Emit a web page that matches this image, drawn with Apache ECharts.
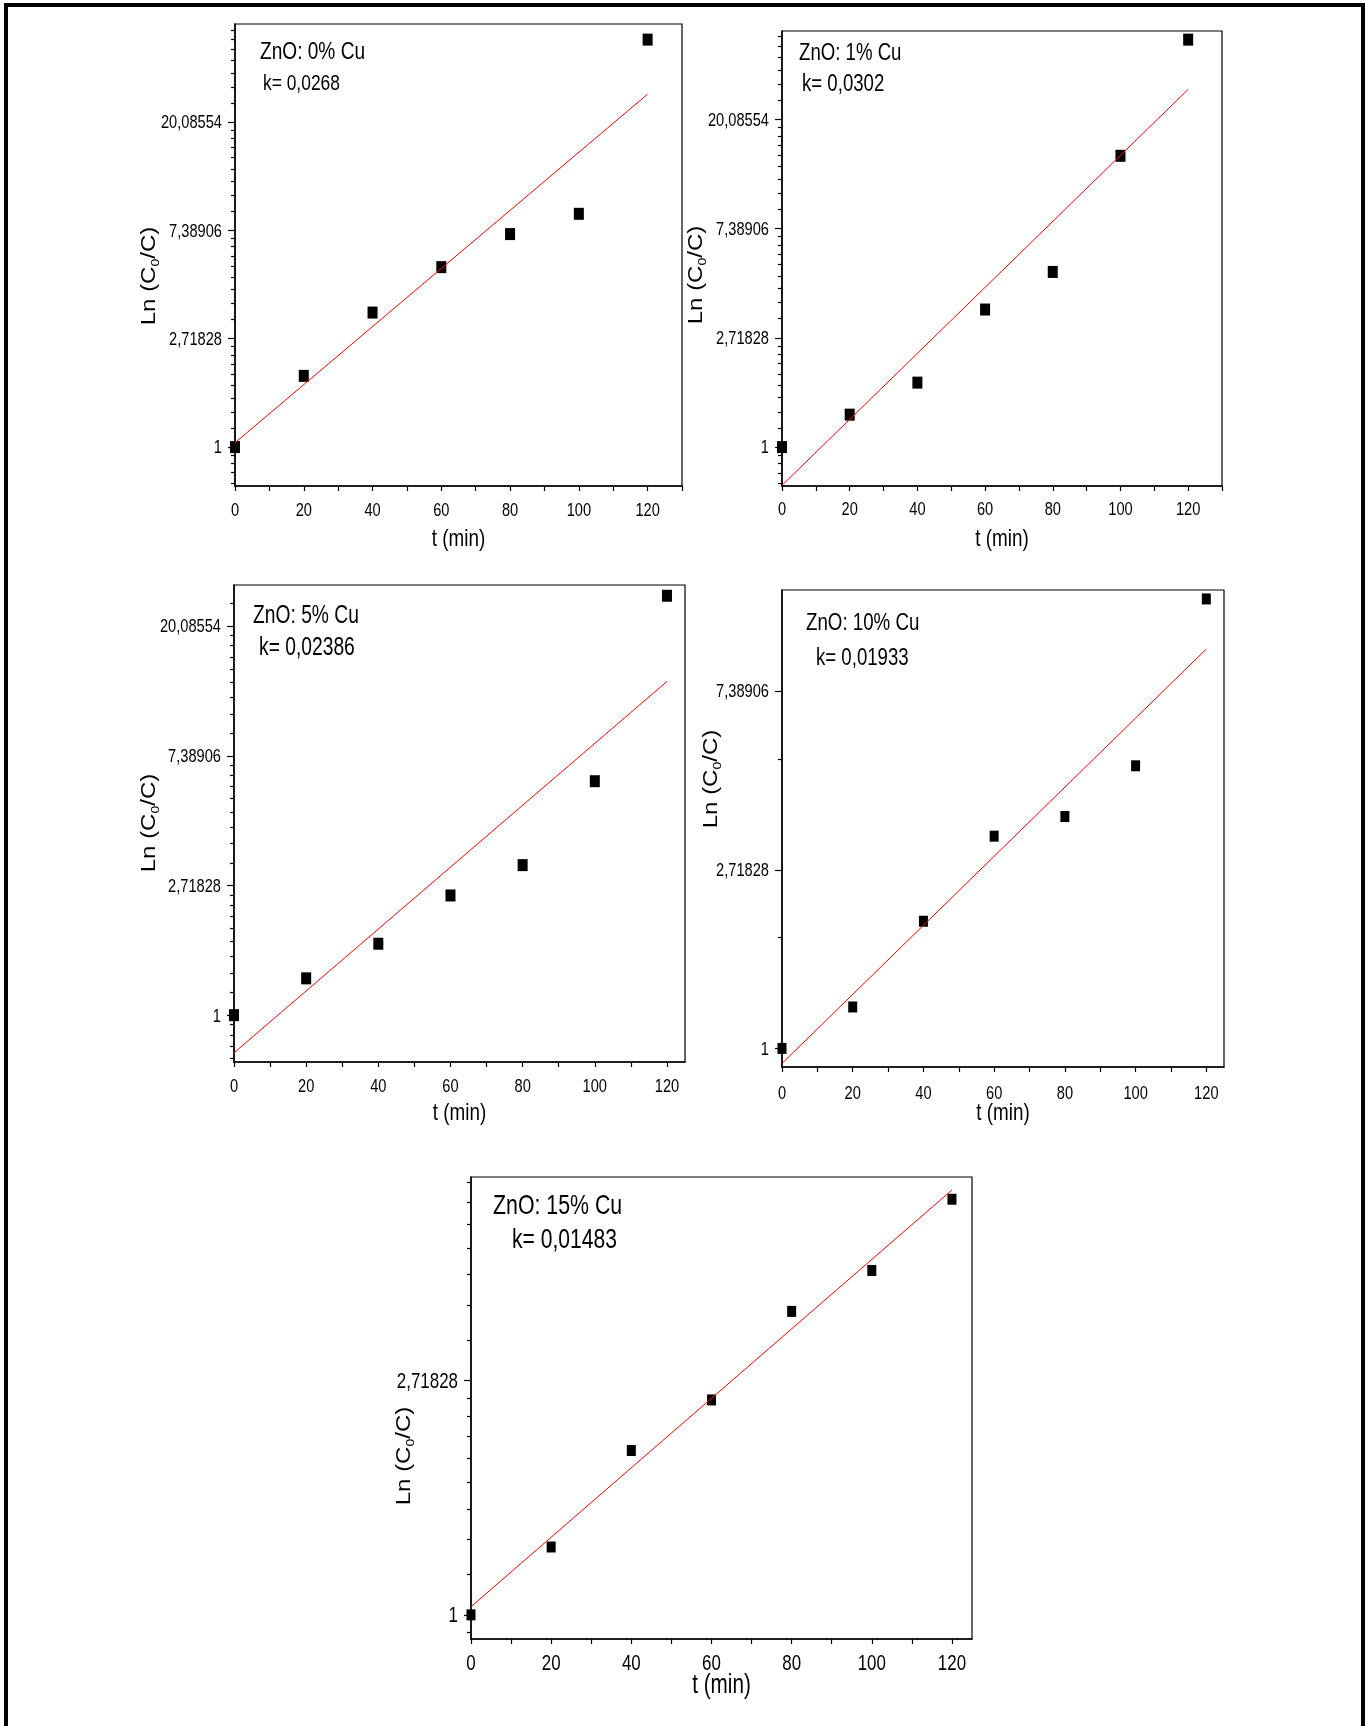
<!DOCTYPE html>
<html>
<head>
<meta charset="utf-8">
<script src="https://cdn.jsdelivr.net/npm/echarts@6/dist/echarts.min.js"></script>
<style>
  html, body { margin: 0; padding: 0; background: #ffffff; }
  #chart { width: 1365px; height: 1726px; }
</style>
</head>
<body>
<div id="chart"></div>
<script>
// Irradiation time (min)
const timeMin = [0, 20, 40, 60, 80, 100, 120];
const xTickLabels = [0, 20, 40, 60, 80, 100, 120];
// Labels of the major y ticks, placed at ln = 0, 1, 2, 3
const yTickLabels = ['1', '2,71828', '7,38906', '20,08554'];

const sampleNames = ['ZnO: 0% Cu', 'ZnO: 1% Cu', 'ZnO: 5% Cu', 'ZnO: 10% Cu', 'ZnO: 15% Cu'];
const rateLabels = ['k= 0,0268', 'k= 0,0302', 'k= 0,02386', 'k= 0,01933', 'k= 0,01483'];

// ln(C0/C) measured for each sample
const lnCu0 = [0, 0.657, 1.241, 1.660, 1.965, 2.152, 3.759];
const lnCu1 = [0, 0.297, 0.590, 1.259, 1.603, 2.666, 3.729];
const lnCu5 = [0, 0.284, 0.551, 0.923, 1.157, 1.804, 3.234];
const lnCu10 = [0, 0.232, 0.712, 1.188, 1.298, 1.582, 2.516];
const lnCu15 = [0, 0.290, 0.702, 0.918, 1.296, 1.471, 1.775];

// Pseudo-first-order fit: ln(C0/C) = b + k t
const rateK = [0.0268, 0.0302, 0.02386, 0.01933, 0.01483];
const fitIntercept = [0.04, -0.35, -0.29, -0.084, 0.035];
const fitRange = [0, 120];

const seriesValues = [lnCu0, lnCu1, lnCu5, lnCu10, lnCu15];

// Panel layout (pixels), axis ranges and text sizes
const panels = [
  { grid: { left: 235, top: 24, width: 447, height: 462 }, xMax: 130, yMin: -0.359, yMax: 3.903, minorDiv: 9,
    tick: 19, xLabelGap: 24, nameGap: 52, nameSize: 24.5, sym: [10, 12],
    yTitle: [150, 276], title: [260, 50.6, 24.8], rate: [263, 82.6, 22.6] },
  { grid: { left: 782, top: 31, width: 440, height: 455 }, xMax: 130, yMin: -0.356, yMax: 3.808, minorDiv: 9,
    tick: 19, xLabelGap: 23, nameGap: 52, nameSize: 24.5, sym: [10, 12],
    yTitle: [697, 275], title: [799, 51.7, 24.2], rate: [802, 82.6, 24.2] },
  { grid: { left: 234, top: 585, width: 451, height: 477 }, xMax: 125, yMin: -0.361, yMax: 3.317, minorDiv: 9,
    tick: 19, xLabelGap: 24, nameGap: 50, nameSize: 24.5, sym: [10, 12],
    yTitle: [150, 823], title: [253, 614.2, 25], rate: [259, 646.2, 25] },
  { grid: { left: 782, top: 590, width: 442, height: 477 }, xMax: 125, yMin: -0.104, yMax: 2.566, minorDiv: 2,
    tick: 19, xLabelGap: 25.5, nameGap: 45, nameSize: 24.5, sym: [9, 11],
    yTitle: [712, 779], title: [806, 622, 24.3], rate: [816, 657.2, 24.2] },
  { grid: { left: 471, top: 1177, width: 501, height: 462 }, xMax: 125, yMin: -0.103, yMax: 1.870, minorDiv: 9,
    tick: 22, xLabelGap: 24, nameGap: 45, nameSize: 26.9, sym: [9, 11],
    yTitle: [405, 1456], title: [493, 1204.3, 27.7], rate: [512, 1238.4, 27.4] }
];

const FONT = "'Liberation Sans', Arial, sans-serif";
const SQUEEZE = 0.77;   // condensed look of the lettering

// Minor ticks: linear subdivisions between successive powers of e
function minorTicks(p) {
  const out = [];
  for (let n = -1; n < 4; n++) {
    const lo = Math.exp(n), hi = Math.exp(n + 1);
    for (let i = 1; i < p.minorDiv; i++) {
      const v = Math.log(lo + i * (hi - lo) / p.minorDiv);
      if (v > p.yMin + 1e-6 && v < p.yMax - 1e-6) out.push(v);
    }
  }
  return out;
}
function majorTicks(p) {
  return [0, 1, 2, 3].filter(v => v >= p.yMin && v <= p.yMax);
}
function xTicks(p) {
  const out = [];
  for (let v = 0; v <= p.xMax; v += 10) out.push(v);
  return out;
}

const grids = [], xAxes = [], yAxes = [], series = [];

panels.forEach((p, i) => {
  grids.push(Object.assign({ show: true, borderColor: '#000', borderWidth: 1.2, backgroundColor: 'transparent' }, p.grid));

  xAxes.push({
    type: 'value', gridIndex: i, min: 0, max: p.xMax,
    axisLine: { show: true, onZero: false, lineStyle: { color: '#000', width: 1.5 } },
    axisTick: { show: true, length: 5, customValues: xTicks(p), lineStyle: { color: '#000', width: 1.2 } },
    axisLabel: { show: false },
    splitLine: { show: false }
  });

  // major ticks
  yAxes.push({
    type: 'value', gridIndex: i, min: p.yMin, max: p.yMax, position: 'left',
    axisLine: { show: true, onZero: false, lineStyle: { color: '#000', width: 1.5 } },
    axisTick: { show: true, length: 7, customValues: majorTicks(p), lineStyle: { color: '#000', width: 1.2 } },
    axisLabel: { show: false },
    splitLine: { show: false }
  });
  // minor ticks
  yAxes.push({
    type: 'value', gridIndex: i, min: p.yMin, max: p.yMax, position: 'left',
    axisLine: { show: false },
    axisTick: { show: true, length: 4, customValues: minorTicks(p), lineStyle: { color: '#000', width: 1.2 } },
    axisLabel: { show: false },
    splitLine: { show: false }
  });

  series.push({
    type: 'scatter', xAxisIndex: i, yAxisIndex: 2 * i,
    symbol: 'rect', symbolSize: p.sym,
    itemStyle: { color: '#000', opacity: 1 },
    data: timeMin.map((t, j) => [t, seriesValues[i][j]]),
    z: 3
  });
  series.push({
    type: 'line', xAxisIndex: i, yAxisIndex: 2 * i,
    showSymbol: false, symbol: 'none', clip: true,
    lineStyle: { color: '#ff0000', width: 1 },
    data: fitRange.map(t => [t, fitIntercept[i] + rateK[i] * t]),
    z: 4
  });
});

const chart = echarts.init(document.getElementById('chart'), null, { renderer: 'canvas' });
chart.setOption({
  animation: false,
  backgroundColor: '#ffffff',
  grid: grids,
  xAxis: xAxes,
  yAxis: yAxes,
  series: series
});

// Condensed lettering: tick labels, axis titles and annotations,
// placed through each grid's own coordinate mapping.
function label(text, x, y, size, align, extra) {
  return Object.assign({
    type: 'text', x: x, y: y + 0.06 * size, scaleX: SQUEEZE, z: 10,
    style: { text: text, fontFamily: FONT, fontSize: size, fill: '#000', align: align, verticalAlign: 'middle' }
  }, extra || {});
}

const graphics = [];
panels.forEach((p, i) => {
  const finder = { xAxisIndex: i, yAxisIndex: 2 * i };
  const axisY = p.grid.top + p.grid.height;
  const axisX = p.grid.left;

  majorTicks(p).forEach(v => {
    const pt = chart.convertToPixel(finder, [0, v]);
    graphics.push(label(yTickLabels[Math.round(v)], axisX - 13, pt[1], p.tick, 'right'));
  });
  xTickLabels.forEach(v => {
    const pt = chart.convertToPixel(finder, [v, p.yMin]);
    graphics.push(label(String(v), pt[0], axisY + p.xLabelGap, p.tick, 'center'));
  });
  graphics.push(label('t (min)', p.grid.left + p.grid.width / 2, axisY + p.nameGap, p.nameSize, 'center'));

  graphics.push(label(sampleNames[i], p.title[0], p.title[1], p.title[2], 'left'));
  graphics.push(label(rateLabels[i], p.rate[0], p.rate[1], p.rate[2], 'left'));

  graphics.push({
    type: 'text', x: p.yTitle[0], y: p.yTitle[1], rotation: Math.PI / 2, scaleY: 0.82, z: 10,
    style: {
      text: '{a|Ln (C}{s|0}{a|/C)}', align: 'center', verticalAlign: 'middle', fill: '#000',
      rich: {
        a: { fontFamily: FONT, fontSize: 24, lineHeight: 28, fill: '#000' },
        s: { fontFamily: FONT, fontSize: 14, lineHeight: 14, verticalAlign: 'bottom', fill: '#000' }
      }
    }
  });
});

// outer frame around the figure
graphics.push({
  type: 'rect', z: 0,
  shape: { x: 6, y: 5, width: 1357, height: 1760 },
  style: { fill: 'none', stroke: '#000', lineWidth: 4 }
});

chart.setOption({ graphic: graphics });
</script>
</body>
</html>
